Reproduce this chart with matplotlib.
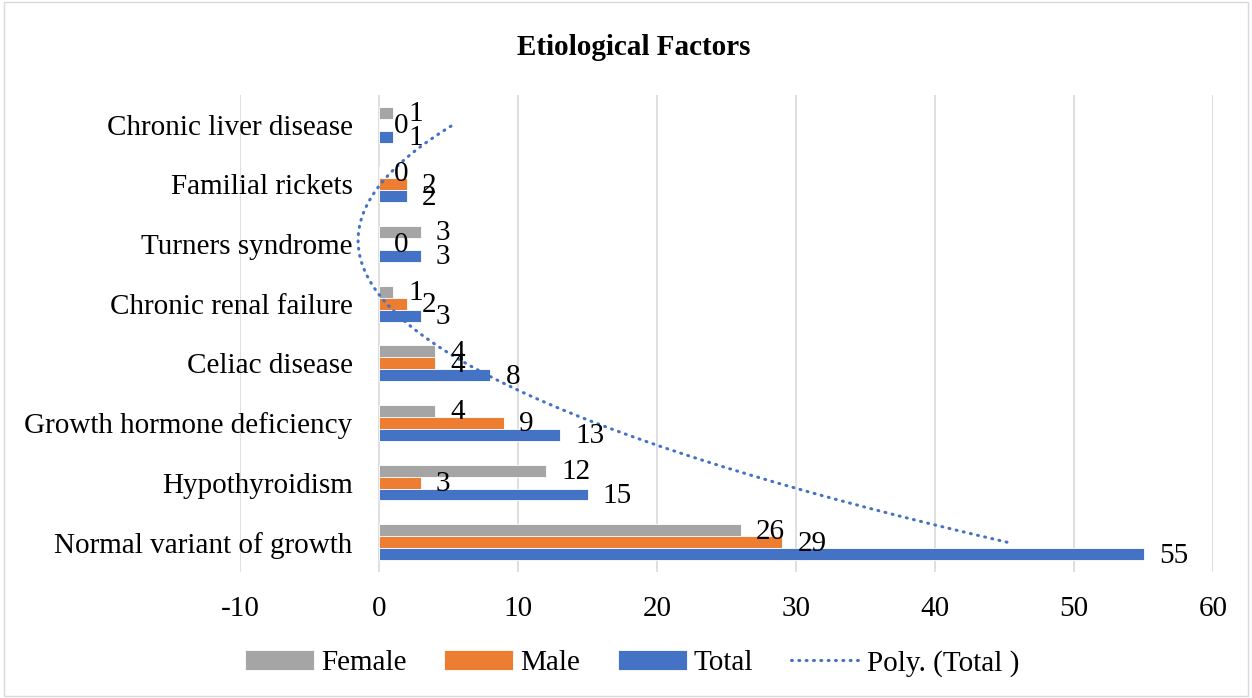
import numpy as np
import matplotlib
matplotlib.use('Agg')
import matplotlib.pyplot as plt
from matplotlib.patches import Rectangle

plt.rcParams['font.family'] = ['Liberation Serif', 'DejaVu Serif']
plt.rcParams['axes.unicode_minus'] = False

categories = ['Normal variant of growth', 'Hypothyroidism', 'Growth hormone deficiency',
              'Celiac disease', 'Chronic renal failure', 'Turners syndrome',
              'Familial rickets', 'Chronic liver disease']
female = [26, 12, 4, 4, 1, 3, 0, 1]
male = [29, 3, 9, 4, 2, 0, 2, 0]
total = [55, 15, 13, 8, 3, 3, 2, 1]

c_female = '#a5a5a5'
c_male = '#ed7d31'
c_total = '#4472c4'

fig = plt.figure(figsize=(12.52, 6.98), dpi=100)
ax = fig.add_axes([0.1917, 0.1805, 0.7773, 0.6835])

y = np.arange(len(categories))
h = 0.2
fs = 21

b_f = ax.barh(y + h, female, height=h, color=c_female, edgecolor='white', linewidth=0.6, label='Female', zorder=3)
b_m = ax.barh(y, male, height=h, color=c_male, edgecolor='white', linewidth=0.6, label='Male', zorder=3)
b_t = ax.barh(y - h, total, height=h, color=c_total, edgecolor='white', linewidth=0.6, label='Total', zorder=3)

for bars, vals in ((b_f, female), (b_m, male), (b_t, total)):
    for bar, v in zip(bars, vals):
        ax.annotate(str(v), (v, bar.get_y() + bar.get_height() / 2),
                    xytext=(11, -1), textcoords='offset points',
                    ha='left', va='center', fontsize=fs, zorder=5)

# polynomial (order 2) trendline of Total, as Excel draws it
coef = np.polyfit(y, total, 2)
yy = np.linspace(y[0], y[-1], 200)
line, = ax.plot(np.polyval(coef, yy), yy, linestyle=(0, (0.3, 2.1)), color=c_total,
                linewidth=2.2, dash_capstyle='round', label='Poly. (Total )', zorder=4)

ax.set_xlim(-10, 60)
ax.set_ylim(-0.5, len(categories) - 0.5)
ax.set_xticks(np.arange(-10, 61, 10))
ax.set_yticks(y)
ax.set_yticklabels(categories)
ax.spines['left'].set_position(('data', 0))
ax.tick_params(axis='both', length=0, labelsize=fs)
ax.tick_params(axis='x', pad=17)
ax.tick_params(axis='y', pad=19)
ax.grid(axis='x', color='#d9d9d9', linewidth=1.2, zorder=0)
for s in ax.spines.values():
    s.set_visible(False)

fig.text(0.506, 0.932, 'Etiological Factors', ha='center', va='center',
         fontsize=fs, fontweight='bold')

ax.legend(handles=[b_f, b_m, b_t, line], loc='center', bbox_to_anchor=(0.505, 0.05),
          bbox_transform=fig.transFigure, ncol=4, frameon=False, fontsize=fs,
          handlelength=2.35, handleheight=0.7, columnspacing=1.3, handletextpad=0.25)

fig.patches.append(Rectangle((0.003, 0.003), 0.994, 0.994, transform=fig.transFigure,
                             fill=False, edgecolor='#d9d9d9', linewidth=1))

fig.savefig('out.png', dpi=100)
